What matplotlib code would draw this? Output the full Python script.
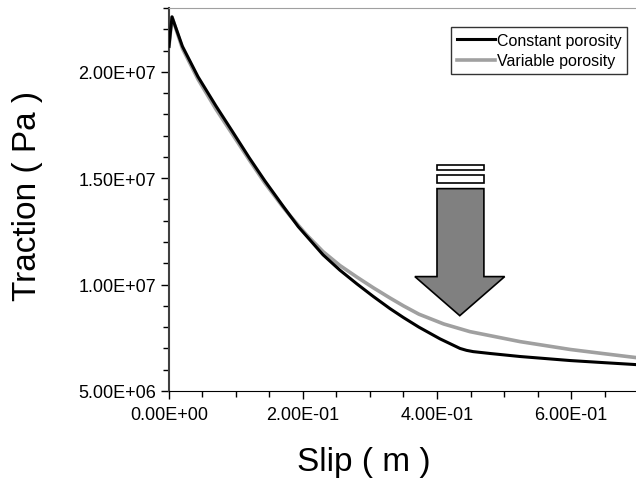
import matplotlib.pyplot as plt
from matplotlib.patches import Polygon, Rectangle
from matplotlib.ticker import MultipleLocator, FuncFormatter

plt.rcParams['font.family'] = ['Liberation Sans', 'DejaVu Sans']

# slip (m) and traction (Pa)
slip_const = [0.0, 0.0045, 0.02, 0.0433, 0.07, 0.094, 0.12, 0.143, 0.17, 0.193,
              0.2299, 0.255, 0.2806, 0.305, 0.3299, 0.35, 0.373, 0.4045, 0.4343,
              0.444, 0.454, 0.48, 0.524, 0.599, 0.65, 0.697]
trac_const = [2.12e7, 2.258e7, 2.12e7, 1.977e7, 1.84e7, 1.723e7, 1.595e7, 1.488e7,
              1.37e7, 1.272e7, 1.14e7, 1.068e7, 1.003e7, 9.44e6, 8.87e6, 8.45e6,
              8.0e6, 7.45e6, 7.0e6, 6.91e6, 6.85e6, 6.76e6, 6.62e6, 6.43e6, 6.33e6,
              6.24e6]

slip_var = [0.0, 0.0045, 0.02, 0.0433, 0.07, 0.094, 0.12, 0.143, 0.17, 0.1806,
            0.205, 0.2299, 0.255, 0.2806, 0.305, 0.3299, 0.35, 0.373, 0.41, 0.449,
            0.524, 0.599, 0.65, 0.697]
trac_var = [2.12e7, 2.258e7, 2.11e7, 1.965e7, 1.825e7, 1.71e7, 1.585e7, 1.478e7,
            1.365e7, 1.324e7, 1.235e7, 1.155e7, 1.09e7, 1.035e7, 9.85e6, 9.37e6,
            9.0e6, 8.61e6, 8.15e6, 7.79e6, 7.32e6, 6.95e6, 6.75e6, 6.57e6]

fig = plt.figure(figsize=(6.36, 4.89), dpi=100)
ax = fig.add_axes([0.2657, 0.1984, 0.7343, 0.7832])

ax.plot(slip_const, trac_const, color='black', lw=2.2, label='Constant porosity',
        zorder=3, solid_joinstyle='round')
ax.plot(slip_var, trac_var, color='#a0a0a0', lw=2.6, label='Variable porosity',
        zorder=2, solid_joinstyle='round')

ax.set_xlim(0, 0.697)
ax.set_ylim(5e6, 2.3e7)
ax.xaxis.set_major_locator(MultipleLocator(0.2))
ax.xaxis.set_minor_locator(MultipleLocator(0.05))
ax.yaxis.set_major_locator(MultipleLocator(5e6))
ax.yaxis.set_minor_locator(MultipleLocator(1e6))
ax.xaxis.set_major_formatter(FuncFormatter(lambda v, p: f'{v:.2E}'))
ax.yaxis.set_major_formatter(FuncFormatter(lambda v, p: f'{v:.2E}'))
ax.tick_params(which='both', direction='out', labelsize=13, width=1)
ax.tick_params(which='major', length=6)
ax.tick_params(which='minor', length=4)
ax.tick_params(axis='x', pad=5)

ax.spines['right'].set_visible(False)
ax.spines['top'].set_color('#a0a0a0')
ax.spines['left'].set_color('#404040')
ax.spines['left'].set_linewidth(1.5)
ax.spines['bottom'].set_color('black')

ax.set_xlabel('Slip ( m )', fontsize=24, va='center')
ax.set_ylabel('Traction ( Pa )', fontsize=24, va='center')
ax.xaxis.set_label_coords(0.4176, -0.185)
ax.yaxis.set_label_coords(-0.304, 0.512)

# downward arrow with two bars above it
arrow = Polygon([(0.400, 1.451e7), (0.470, 1.451e7), (0.470, 1.0376e7),
                 (0.501, 1.0376e7), (0.434, 8.54e6), (0.367, 1.0376e7),
                 (0.400, 1.0376e7)], closed=True, facecolor='#808080',
                edgecolor='black', lw=1.2, zorder=4)
ax.add_patch(arrow)
ax.add_patch(Rectangle((0.400, 1.540e7), 0.070, 0.023e7, facecolor='white',
                       edgecolor='black', lw=1.2, zorder=4))
ax.add_patch(Rectangle((0.400, 1.479e7), 0.070, 0.037e7, facecolor='white',
                       edgecolor='black', lw=1.2, zorder=4))

leg = ax.legend(loc='upper right', bbox_to_anchor=(0.981, 0.950), fontsize=11.5,
                frameon=True, fancybox=False, edgecolor='black',
                handlelength=2.4, handletextpad=0.1, borderpad=0.35,
                labelspacing=0.35, borderaxespad=0)
leg.get_frame().set_linewidth(1.0)

fig.savefig('out.png', dpi=100)
